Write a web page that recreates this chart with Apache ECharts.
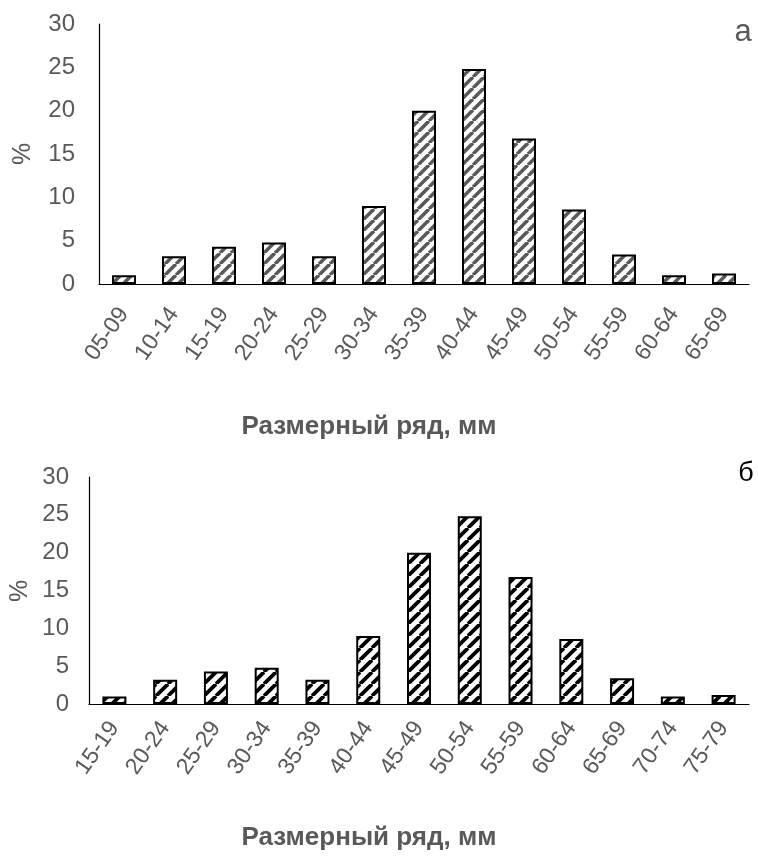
<!DOCTYPE html>
<html>
<head>
<meta charset="utf-8">
<script src="https://cdn.jsdelivr.net/npm/echarts@6/dist/echarts.min.js"></script>
<style>
html,body{margin:0;padding:0;background:#fff;}
#chart{width:758px;height:859px;}
</style>
</head>
<body>
<div id="chart"></div>
<script>
const categoriesA = ['05-09','10-14','15-19','20-24','25-29','30-34','35-39','40-44','45-49','50-54','55-59','60-64','65-69'];
const valuesA = [1.0, 3.2, 4.3, 4.8, 3.2, 9.0, 20.0, 24.8, 16.8, 8.6, 3.4, 1.0, 1.2];
const categoriesB = ['15-19','20-24','25-29','30-34','35-39','40-44','45-49','50-54','55-59','60-64','65-69','70-74','75-79'];
const valuesB = [1.0, 3.2, 4.3, 4.8, 3.2, 9.0, 20.0, 24.8, 16.8, 8.6, 3.4, 1.0, 1.2];
const yTicks = [0, 5, 10, 15, 20, 25, 30];
const axisTitle = 'Размерный ряд, мм';
const yName = '%';
const panelA = 'а';
const panelB = 'б';

function hatch(color, size, width) {
  const c = document.createElement('canvas');
  c.width = size; c.height = size;
  const ctx = c.getContext('2d');
  ctx.fillStyle = '#fff';
  ctx.fillRect(0, 0, size, size);
  ctx.strokeStyle = color;
  ctx.lineWidth = width;
  for (let k = -1; k <= 1; k++) {
    ctx.beginPath();
    ctx.moveTo(k * size, size);
    ctx.lineTo(k * size + size, 0);
    ctx.stroke();
  }
  return c;
}

const chart = echarts.init(document.getElementById('chart'), null, {renderer: 'canvas'});
const labelColor = '#595959';
const font = 'Liberation Sans, Arial, sans-serif';

function xAxisCfg(cats, idx, margin) {
  return {
    type: 'category', gridIndex: idx, data: cats,
    axisLine: {show: true, lineStyle: {color: '#000', width: 1.2}},
    axisTick: {show: false},
    axisLabel: {rotate: 55, color: labelColor, fontSize: 23, fontFamily: font, margin: margin, interval: 0}
  };
}
function yAxisCfg(idx, margin) {
  return {
    type: 'value', gridIndex: idx, min: yTicks[0], max: yTicks[yTicks.length - 1], interval: 5,
    axisLine: {show: true, lineStyle: {color: '#000', width: 1.2}},
    axisTick: {show: false},
    splitLine: {show: false},
    axisLabel: {color: labelColor, fontSize: 24, fontFamily: font, margin: margin}
  };
}

chart.setOption({
  animation: false,
  grid: [
    {left: 99, right: 9, top: 24, height: 260},
    {left: 89, right: 9, top: 477, height: 227}
  ],
  xAxis: [xAxisCfg(categoriesA, 0, 26), xAxisCfg(categoriesB, 1, 20)],
  yAxis: [yAxisCfg(0, 24), yAxisCfg(1, 20)],
  series: [
    {
      type: 'bar', xAxisIndex: 0, yAxisIndex: 0, data: valuesA, barWidth: 24,
      itemStyle: {color: {image: hatch('#595959', 11, 3.6), repeat: 'repeat'}, borderColor: '#000', borderWidth: 2}
    },
    {
      type: 'bar', xAxisIndex: 1, yAxisIndex: 1, data: valuesB, barWidth: 24,
      itemStyle: {color: {image: hatch('#000', 12, 3.8), repeat: 'repeat'}, borderColor: '#000', borderWidth: 2}
    }
  ],
  graphic: [
    {type: 'text', x: 23, y: 154, rotation: Math.PI / 2, style: {text: yName, fill: labelColor, font: '25px ' + font, textAlign: 'center', textVerticalAlign: 'middle'}},
    {type: 'text', x: 20, y: 591, rotation: Math.PI / 2, style: {text: yName, fill: labelColor, font: '25px ' + font, textAlign: 'center', textVerticalAlign: 'middle'}},
    {type: 'text', x: 369, y: 427, style: {text: axisTitle, fill: labelColor, font: 'bold 26px ' + font, textAlign: 'center', textVerticalAlign: 'middle'}},
    {type: 'text', x: 369, y: 838, style: {text: axisTitle, fill: labelColor, font: 'bold 26px ' + font, textAlign: 'center', textVerticalAlign: 'middle'}},
    {type: 'text', x: 743, y: 32, style: {text: panelA, fill: labelColor, font: '31px ' + font, textAlign: 'center', textVerticalAlign: 'middle'}},
    {type: 'text', x: 746, y: 474, style: {text: panelB, fill: '#000', font: '27px ' + font, textAlign: 'center', textVerticalAlign: 'middle'}}
  ]
});
</script>
</body>
</html>
